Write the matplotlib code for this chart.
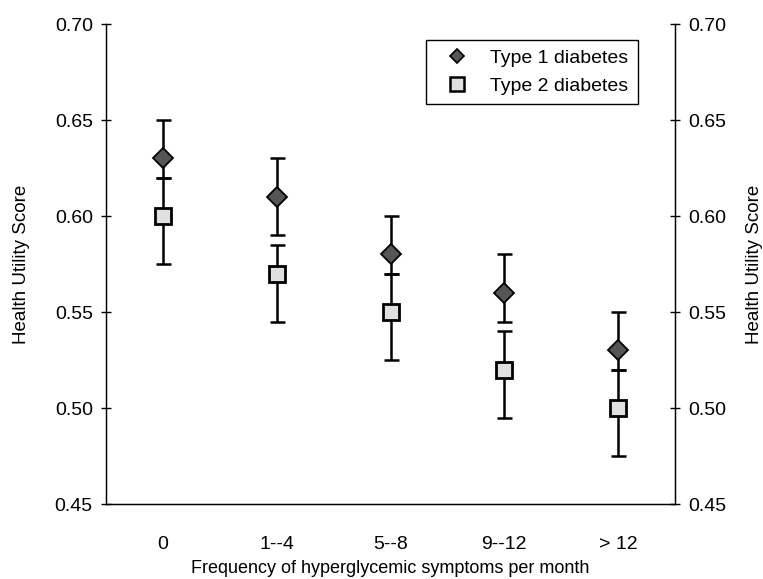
"""Health utility score by frequency of hyperglycemic symptoms."""

import matplotlib

matplotlib.use("Agg")
import matplotlib.pyplot as plt
from matplotlib.lines import Line2D

plt.rcParams["font.family"] = ["Liberation Sans", "DejaVu Sans"]
plt.rcParams["font.size"] = 14

categories = ["0", "1--4", "5--8", "9--12", "> 12"]

type1_mean = [0.63, 0.61, 0.58, 0.56, 0.53]
type1_low = [0.62, 0.59, 0.57, 0.545, 0.52]
type1_high = [0.65, 0.63, 0.60, 0.58, 0.55]

type2_mean = [0.60, 0.57, 0.55, 0.52, 0.50]
type2_low = [0.575, 0.545, 0.525, 0.495, 0.475]
type2_high = [0.62, 0.585, 0.57, 0.54, 0.52]

y_ticks = [0.45, 0.50, 0.55, 0.60, 0.65, 0.70]


def _err(mean, low, high):
    return [[m - l for m, l in zip(mean, low)], [h - m for m, h in zip(mean, high)]]


fig = plt.figure(figsize=(7.63, 5.79), dpi=100)
ax = fig.add_axes([0.1389, 0.1295, 0.7458, 0.829])
x = list(range(len(categories)))

err_style = dict(fmt="none", ecolor="black", elinewidth=1.8, capsize=5.4, capthick=1.8, zorder=2)
ax.errorbar(x, type1_mean, yerr=_err(type1_mean, type1_low, type1_high), **err_style)
ax.errorbar(x, type2_mean, yerr=_err(type2_mean, type2_low, type2_high), **err_style)

ax.plot(x, type1_mean, linestyle="none", marker="D", markersize=10, markerfacecolor="#555555",
        markeredgecolor="black", markeredgewidth=1.3, zorder=3)
ax.plot(x, type2_mean, linestyle="none", marker="s", markersize=11.5, markerfacecolor="#e0e0e0",
        markeredgecolor="black", markeredgewidth=2, zorder=4)

ax.set_xlim(-0.5, len(categories) - 0.5)
ax.set_ylim(0.45, 0.70)
ax.set_xticks(x)
ax.set_xticklabels(categories)
ax.set_yticks(y_ticks)
ax.set_yticklabels([f"{v:.2f}" for v in y_ticks])
ax.tick_params(axis="x", length=0, pad=23)
ax.tick_params(axis="y", direction="inout", length=7, width=1, pad=6)
ax.spines["top"].set_visible(False)
for side in ("left", "right", "bottom"):
    ax.spines[side].set_linewidth(1)
ax.set_xlabel("Frequency of hyperglycemic symptoms per month", fontsize=13, labelpad=5)
ax.set_ylabel("Health Utility Score", fontsize=13.5, labelpad=18)

ax2 = ax.twinx()
ax2.set_ylim(0.45, 0.70)
ax2.set_yticks(y_ticks)
ax2.set_yticklabels([f"{v:.2f}" for v in y_ticks])
ax2.tick_params(axis="y", direction="inout", length=7, width=1, pad=6)
ax2.spines["top"].set_visible(False)
ax2.set_ylabel("Health Utility Score", fontsize=13.5, rotation=90, labelpad=14)

handles = [
    Line2D([], [], linestyle="none", marker="D", markersize=7.5, markerfacecolor="#555555",
           markeredgecolor="black", markeredgewidth=1.2),
    Line2D([], [], linestyle="none", marker="s", markersize=9.5, markerfacecolor="#e0e0e0",
           markeredgecolor="black", markeredgewidth=1.8),
]
legend = ax.legend(handles, ["Type 1 diabetes", "Type 2 diabetes"], loc="upper right",
                   bbox_to_anchor=(0.935, 0.967), borderaxespad=0, fancybox=False,
                   framealpha=1, edgecolor="black", handletextpad=0.6, handlelength=2.2,
                   borderpad=0.5, labelspacing=0.5)
legend.get_frame().set_linewidth(1)

fig.savefig("out.png", dpi=100)
plt.close(fig)
